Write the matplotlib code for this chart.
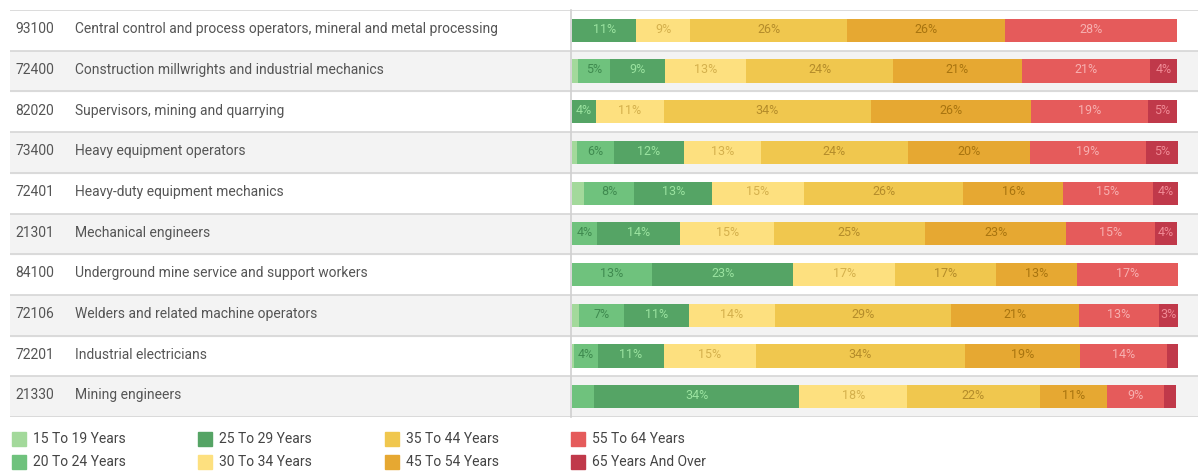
import matplotlib.pyplot as plt
from matplotlib.patches import Rectangle
from matplotlib.transforms import blended_transform_factory

plt.rcParams['font.family'] = ['Roboto', 'DejaVu Sans']

# occupations (top to bottom)
codes = ['93100', '72400', '82020', '73400', '72401',
         '21301', '84100', '72106', '72201', '21330']
names = ['Central control and process operators, mineral and metal processing',
         'Construction millwrights and industrial mechanics',
         'Supervisors, mining and quarrying',
         'Heavy equipment operators',
         'Heavy-duty equipment mechanics',
         'Mechanical engineers',
         'Underground mine service and support workers',
         'Welders and related machine operators',
         'Industrial electricians',
         'Mining engineers']

age_groups = ['15 To 19 Years', '20 To 24 Years', '25 To 29 Years', '30 To 34 Years',
              '35 To 44 Years', '45 To 54 Years', '55 To 64 Years', '65 Years And Over']

# share (%) of each age group, one list per age group, rows in order of codes
a15_19 = [0.0, 1.0, 0.0, 0.8, 1.9, 0.0, 0.0, 1.2, 0.4, 0.0]
a20_24 = [0.0, 5.3, 0.0, 6.1, 8.4, 4.2, 13.2, 7.3, 3.9, 3.6]
a25_29 = [10.6, 9.0, 3.9, 11.6, 12.8, 13.7, 23.3, 10.8, 10.8, 33.9]
a30_34 = [8.9, 13.4, 11.2, 12.7, 15.2, 15.4, 16.8, 14.2, 15.2, 17.8]
a35_44 = [25.9, 24.3, 34.2, 24.2, 26.3, 24.9, 16.6, 29.0, 34.5, 21.9]
a45_54 = [26.0, 21.2, 26.4, 20.2, 16.4, 23.4, 13.4, 21.1, 19.1, 11.1]
a55_64 = [28.5, 21.2, 19.4, 19.1, 14.8, 14.6, 16.8, 13.2, 14.3, 9.4]
a65_up = [0.0, 4.5, 4.7, 5.3, 4.2, 3.7, 0.0, 3.2, 1.8, 2.0]
series = [a15_19, a20_24, a25_29, a30_34, a35_44, a45_54, a55_64, a65_up]

colors = ['#a3d99b', '#6fc27d', '#55a465', '#fde07f',
          '#f0c74e', '#e6a832', '#e55b5b', '#c0394a']
text_colors = ['#5c9c55', '#3f8a4f', '#9be3a0', '#d4b04c',
               '#b48c2a', '#a8740f', '#f7b0b0', '#f08a95']

W, H = 1198, 472
fig = plt.figure(figsize=(W / 100, H / 100), dpi=100)

y_top, y_bot = 10, 417
n = len(codes)
bg = fig.add_axes([10 / W, 1 - y_bot / H, (W - 10) / W, (y_bot - y_top) / H])
bg.set_xlim(0, 1)
bg.set_ylim(n, 0)
bg.axis('off')

# striped rows and separators
for i in range(n):
    if i % 2 == 1:
        bg.axhspan(i, i + 1, color='#f3f3f3', zorder=0)
for i in range(n + 1):
    bg.axhline(i, color='#d6d6d6', lw=1.2, zorder=1)

trans = blended_transform_factory(fig.transFigure, bg.transData)
for i, (c, nm) in enumerate(zip(codes, names)):
    bg.text(15 / W, i + 0.47, c, transform=trans, va='center', ha='left',
            fontsize=10, color='#555555')
    bg.text(75 / W, i + 0.47, nm, transform=trans, va='center', ha='left',
            fontsize=10, color='#555555')

bg.plot([571 / W, 571 / W], [0, n], transform=trans, color='#d0d0d0', lw=1.2,
        zorder=2, clip_on=False)

# bars
ax = fig.add_axes([572 / W, 1 - y_bot / H, 606 / W, (y_bot - y_top) / H])
ax.set_xlim(0, 100)
ax.set_ylim(n, 0)
ax.axis('off')
ax.patch.set_alpha(0)

hide_labels = [(9, 1)]
ypos = [i + 0.5 for i in range(n)]
left = [0.0] * n
for k, vals in enumerate(series):
    ax.barh(ypos, vals, left=left, height=0.57, color=colors[k], linewidth=0)
    for i, v in enumerate(vals):
        if v >= 3 and (i, k) not in hide_labels:
            ax.text(left[i] + v / 2, ypos[i] - 0.03, f'{round(v)}%', ha='center',
                    va='center', fontsize=9, color=text_colors[k])
    left = [l + v for l, v in zip(left, vals)]

# legend
col_x = [12, 198, 385, 571]
row_y = [439, 462]
for k, lab in enumerate(age_groups):
    x = col_x[k // 2]
    y = row_y[k % 2]
    fig.patches.append(Rectangle((x / W, 1 - (y + 7) / H), 14 / W, 14 / H,
                                 transform=fig.transFigure, color=colors[k]))
    fig.text((x + 21) / W, 1 - y / H, lab, ha='left', va='center',
             fontsize=10, color='#444444')

fig.savefig('out.png', dpi=100)
